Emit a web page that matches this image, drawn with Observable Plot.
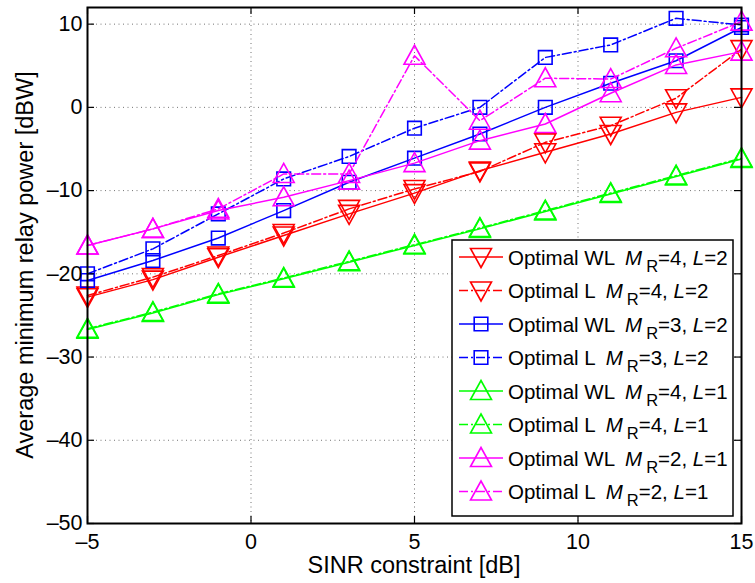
<!DOCTYPE html>
<html><head><meta charset="utf-8">
<script src="https://cdn.jsdelivr.net/npm/d3@7"></script>
<script src="https://cdn.jsdelivr.net/npm/@observablehq/plot@0.6"></script>
<style>body{margin:0;background:#fff}#chart svg{display:block}</style>
</head><body><div id="chart"></div>
<script>
// ---- data ----
const sinr = [-5, -3, -1, 1, 3, 5, 7, 9, 11, 13, 15];
const wlM4L2 = [-22.8, -20.7, -18.0, -15.4, -12.8, -10.3, -7.6, -5.4, -3.2, -0.6, 1.2];
const lM4L2  = [-22.6, -20.4, -17.8, -15.1, -12.2, -9.8, -7.7, -4.2, -2.2, 1.1, 7.0];
const wlM3L2 = [-20.8, -18.4, -15.7, -12.4, -9.0, -6.1, -3.2, 0.0, 2.9, 5.6, 9.6];
const lM3L2  = [-20.0, -17.0, -12.8, -8.6, -5.9, -2.5, 0.0, 6.0, 7.5, 10.7, 9.9];
const wlM4L1 = [-26.7, -24.7, -22.5, -20.6, -18.6, -16.6, -14.6, -12.5, -10.4, -8.3, -6.2];
const lM4L1  = [-26.6, -24.6, -22.4, -20.5, -18.5, -16.5, -14.5, -12.4, -10.3, -8.2, -6.1];
const wlM2L1 = [-16.6, -14.6, -12.4, -10.8, -8.8, -6.7, -4.0, -2.0, 1.7, 5.1, 6.7];
const lM2L1  = [-16.6, -14.6, -12.2, -8.0, -8.0, 6.2, -1.6, 3.5, 3.4, 7.1, 10.3];
const xTicks = [-5, 0, 5, 10, 15];
const yTicks = [-50, -40, -30, -20, -10, 0, 10];
const legendNames = ["Optimal WL", "Optimal L", "Optimal WL", "Optimal L", "Optimal WL", "Optimal L", "Optimal WL", "Optimal L"];
const legendM = [4, 4, 3, 3, 4, 4, 2, 2];
const legendL = [2, 2, 2, 2, 1, 1, 1, 1];

// ---- symbols ----
const downTri = {draw(c, size) { const s = Math.sqrt(size / Math.PI);
  c.moveTo(-1.05 * s, -0.85 * s); c.lineTo(1.05 * s, -0.85 * s); c.lineTo(0, 1.05 * s); c.closePath(); }};
const upTri = {draw(c, size) { const s = Math.sqrt(size / Math.PI);
  c.moveTo(-1.05 * s, 0.85 * s); c.lineTo(1.05 * s, 0.85 * s); c.lineTo(0, -1.05 * s); c.closePath(); }};
const square = {draw(c, size) { const s = Math.sqrt(size / Math.PI);
  c.rect(-s, -s, 2 * s, 2 * s); }};

const DASH = "9,3,2,3";
const series = [
  {values: wlM4L2, color: "#ff0000", dash: null, sym: downTri, r: 10},
  {values: lM4L2,  color: "#ff0000", dash: DASH, sym: downTri, r: 10},
  {values: wlM3L2, color: "#0000ff", dash: null, sym: square, r: 6.8},
  {values: lM3L2,  color: "#0000ff", dash: DASH, sym: square, r: 6.8},
  {values: wlM4L1, color: "#00ff00", dash: null, sym: upTri, r: 10},
  {values: lM4L1,  color: "#00ff00", dash: DASH, sym: upTri, r: 10},
  {values: wlM2L1, color: "#ff00ff", dash: null, sym: upTri, r: 10},
  {values: lM2L1,  color: "#ff00ff", dash: DASH, sym: upTri, r: 10}
];

const W = 755, H = 583, mL = 87, mR = 14, mT = 7, mB = 60;
const innerW = W - mL - mR, innerH = H - mT - mB;
const fmt = d => (d < 0 ? "\u2013" + Math.abs(d) : String(d));

const marks = [
  Plot.gridX(xTicks, {stroke: "#000", strokeOpacity: 0.55, strokeDasharray: "1,3.5"}),
  Plot.gridY(yTicks, {stroke: "#000", strokeOpacity: 0.55, strokeDasharray: "1,3.5"})
];
for (const s of series) {
  const data = sinr.map((x, i) => ({x, y: s.values[i]}));
  marks.push(Plot.line(data, {x: "x", y: "y", stroke: s.color, strokeWidth: 1.5, strokeDasharray: s.dash}));
  marks.push(Plot.dot(data, {x: "x", y: "y", symbol: s.sym, r: s.r, stroke: s.color, fill: "none", strokeWidth: 1.6}));
}
// inward tick marks on all four sides
marks.push(
  Plot.tickX(xTicks, {x: d => d, insetTop: innerH - 7, stroke: "#000", strokeWidth: 1.2}),
  Plot.tickX(xTicks, {x: d => d, insetBottom: innerH - 7, stroke: "#000", strokeWidth: 1.2}),
  Plot.tickY(yTicks, {y: d => d, insetRight: innerW - 7, stroke: "#000", strokeWidth: 1.2}),
  Plot.tickY(yTicks, {y: d => d, insetLeft: innerW - 7, stroke: "#000", strokeWidth: 1.2}),
  Plot.frame({stroke: "#000", strokeWidth: 2}),
  Plot.axisX(xTicks, {tickSize: 0, tickPadding: 10, tickFormat: fmt, label: null, fontSize: 21.5}),
  Plot.axisY(yTicks, {tickSize: 0, tickPadding: 5, tickFormat: fmt, label: null, fontSize: 21.5})
);

const plot = Plot.plot({
  width: W, height: H,
  marginLeft: mL, marginRight: mR, marginTop: mT, marginBottom: mB,
  x: {domain: [-5, 15]},
  y: {domain: [-50, 12]},
  style: {fontFamily: "'Liberation Sans', Arial, sans-serif", background: "#fff", color: "#000"},
  marks
});
document.getElementById("chart").appendChild(plot);

// ---- axis labels & legend ----
const svg = d3.select(plot);
const xr = plot.scale("x").range, yr = plot.scale("y").range;
const font = "'Liberation Sans', Arial, sans-serif";
svg.append("text").attr("x", (xr[0] + xr[1]) / 2).attr("y", H - 10)
  .attr("text-anchor", "middle").attr("font-family", font).attr("font-size", 23.5).attr("fill", "#000")
  .text("SINR constraint [dB]");
svg.append("text").attr("transform", `translate(33,${(yr[0] + yr[1]) / 2}) rotate(-90)`)
  .attr("text-anchor", "middle").attr("font-family", font).attr("font-size", 23.5).attr("fill", "#000")
  .text("Average minimum relay power [dBW]");

const lgRight = xr[1] - 8, lgBottom = yr[0] - 7;
const lgW = 281, lgH = 276;
const lg = svg.append("g").attr("transform", `translate(${lgRight - lgW},${lgBottom - lgH})`);
lg.append("rect").attr("width", lgW).attr("height", lgH).attr("fill", "#fff").attr("stroke", "#000").attr("stroke-width", 1.5);
series.forEach((s, i) => {
  const cy = 17 + i * 33.5;
  const g = lg.append("g").attr("transform", `translate(0,${cy})`);
  g.append("line").attr("x1", 7).attr("x2", 51).attr("y1", 0).attr("y2", 0)
    .attr("stroke", s.color).attr("stroke-width", 1.5).attr("stroke-dasharray", s.dash);
  g.append("path").attr("transform", "translate(29,0)")
    .attr("d", d3.symbol().type(s.sym).size(Math.PI * s.r * s.r)())
    .attr("fill", "none").attr("stroke", s.color).attr("stroke-width", 1.6);
  const t = g.append("text").attr("x", 56).attr("y", 7.5).attr("text-anchor", "start")
    .attr("font-family", font).attr("font-size", 20.5).attr("fill", "#000");
  t.append("tspan").text(legendNames[i]);
  t.append("tspan").attr("dx", 10).attr("font-style", "italic").text("M");
  t.append("tspan").attr("dx", 4).attr("dy", 7).attr("font-size", 16.5).text("R");
  t.append("tspan").attr("dy", -7).text(`=${legendM[i]}, `);
  t.append("tspan").attr("font-style", "italic").text("L");
  t.append("tspan").text(`=${legendL[i]}`);
});
</script>
</body></html>
